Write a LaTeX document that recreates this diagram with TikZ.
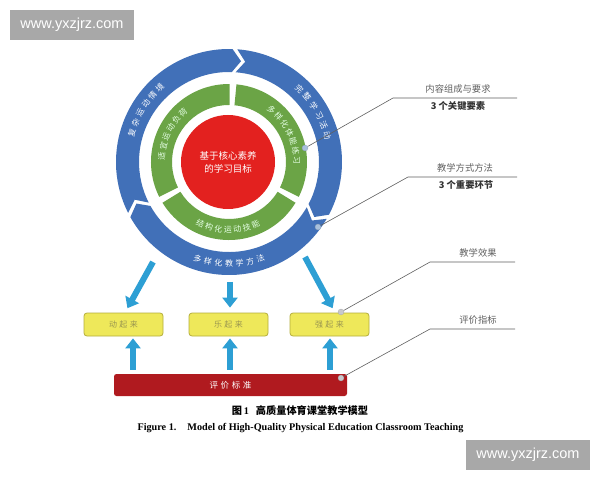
\documentclass[tikz,border=0pt]{standalone}
\usepackage{fontspec}
\setmainfont{Liberation Serif}
\newfontfamily\cjk{Noto Sans CJK SC}
\newfontfamily\cjksp{Noto Sans CJK SC}[LetterSpace=30]
\newfontfamily\wmfont{Liberation Sans}
\usetikzlibrary{arrows.meta}
\definecolor{ringblue}{HTML}{4170B8}
\definecolor{ringgreen}{HTML}{6BA446}
\definecolor{ringred}{HTML}{E3211F}
\definecolor{boxyellow}{HTML}{EEE85A}
\definecolor{boxedge}{HTML}{B5AE3C}
\definecolor{barred}{HTML}{B01A1F}
\definecolor{arrowblue}{HTML}{2D9FD4}
\definecolor{dotblue}{HTML}{A8C0DC}
\definecolor{dotgray}{HTML}{C8C8CC}
\definecolor{leadgray}{HTML}{606060}
\definecolor{wmgray}{HTML}{A8A8A8}
\definecolor{boxtext}{HTML}{9A9650}
\tikzset{
  bluetext/.style={text=white, inner sep=0pt, font=\cjk\fontsize{8}{9}\selectfont},
  greentext/.style={text=white!90!green, inner sep=0pt, font=\cjk\fontsize{8}{9}\selectfont},
  arr/.style={draw=arrowblue, line width=6pt, -{Triangle[width=15pt,length=10pt]}},
  goalbox/.style={draw=boxedge, fill=boxyellow, line width=0.8pt, rounded corners=3pt,
    minimum width=79pt, minimum height=23pt, text=boxtext, font=\cjksp\fontsize{8}{9}\selectfont},
  lead/.style={draw=leadgray, line width=0.6pt},
  dotb/.style={circle, fill=dotblue, draw=dotblue!80!black, line width=0.2pt, minimum size=6pt, inner sep=0pt},
  dotg/.style={circle, fill=dotgray, draw=dotgray!80!black, line width=0.2pt, minimum size=6pt, inner sep=0pt},
  annot/.style={text=leadgray, inner sep=0pt, font=\cjk\fontsize{9.3}{10}\selectfont},
  annotb/.style={text=black!80, inner sep=0pt, font=\cjk\bfseries\fontsize{9.3}{10}\selectfont},
  wmark/.style={fill=wmgray, text=white, minimum width=124pt, minimum height=30pt, inner sep=0pt,
    font=\wmfont\fontsize{14.5}{16}\selectfont}
}
\begin{document}
\begin{tikzpicture}[x=1pt,y=1pt]
\useasboundingbox (0,0) rectangle (600,480);
\fill[white] (0,0) rectangle (600,480);

\begin{scope}[shift={(229,318)}]
  % blue chevron ring
  \foreach \S/\E in {208/87, 87/-29, 331/208} {
    \fill[ringblue] ({\S-1.2}:113) arc[start angle={\S-1.2}, end angle={\E+1.2}, radius=113]
      -- ({\E+1.2-5}:101.5) -- ({\E+1.2}:90)
      arc[start angle={\E+1.2}, end angle={\S-1.2}, radius=90]
      -- ({\S-6.2}:101.5) -- cycle;
  }
  % green ring
  \foreach \S/\E in {209/87, 87/-29, 331/209} {
    \fill[ringgreen] ({\S-2.5}:78) arc[start angle={\S-2.5}, end angle={\E+2.5}, radius=78]
      -- ({\E+2.5}:57) arc[start angle={\E+2.5}, end angle={\S-2.5}, radius=57] -- cycle;
  }
  % core
  \node[circle, fill=ringred, minimum size=94pt, inner sep=0pt, text=white, align=center,
        font=\cjk\fontsize{9.5}{13}\selectfont] (core) at (-1,0) {基于核心素养\\的学习目标};
  % blue labels
  \foreach \c [count=\i] in {复,杂,运,动,情,境} {
    \pgfmathsetmacro\a{163-(\i-1)*6}
    \node[bluetext, rotate=\a-90] (bl-\i) at (\a:101.5) {\c};
  }
  \foreach \c [count=\i] in {完,整,学,习,活,动} {
    \pgfmathsetmacro\a{46-(\i-1)*6.2}
    \node[bluetext, rotate=\a-90] (br-\i) at (\a:101.5) {\c};
  }
  \foreach \c [count=\i] in {多,样,化,教,学,方,法} {
    \pgfmathsetmacro\a{252+(\i-1)*6}
    \node[bluetext, rotate=\a+90] (bb-\i) at (\a:101.5) {\c};
  }
  % green labels
  \foreach \c [count=\i] in {适,宜,运,动,负,荷} {
    \pgfmathsetmacro\a{175-(\i-1)*8.4}
    \node[greentext, rotate=\a-90] (gl-\i) at (\a:67.5) {\c};
  }
  \foreach \c [count=\i] in {多,样,化,体,能,练,习} {
    \pgfmathsetmacro\a{51-(\i-1)*8.3}
    \node[greentext, rotate=\a-90] (gr-\i) at (\a:67.5) {\c};
  }
  \foreach \c [count=\i] in {结,构,化,运,动,技,能} {
    \pgfmathsetmacro\a{245+(\i-1)*8}
    \node[greentext, rotate=\a+90] (gb-\i) at (\a:68) {\c};
  }
\end{scope}

% goal boxes and evaluation bar
\node[goalbox] (box1) at (123.5,155.5) {动起来};
\node[goalbox] (box2) at (228.5,155.5) {乐起来};
\node[goalbox] (box3) at (329.5,155.5) {强起来};
\node[fill=barred, rounded corners=2.5pt, minimum width=233pt, minimum height=22pt, inner sep=0pt,
      text=white, font=\cjksp\fontsize{8.5}{10}\selectfont] (bar) at (230.5,95) {评价标准};

% down arrows
\coordinate (sl) at (153,218);
\coordinate (sm) at (230,198);
\coordinate (sr) at (305,223);
\coordinate (xl) at (125,0);
\coordinate (xm) at (230,0);
\coordinate (xr) at (335,0);
\draw[arr, shorten >=5pt] (sl) -- (box1.north -| xl);
\draw[arr, shorten >=5pt] (sm) -- (box2.north -| xm);
\draw[arr, shorten >=5pt] (sr) -- (box3.north -| xr);
% up arrows
\coordinate (ul) at (133,0);
\coordinate (um) at (230,0);
\coordinate (ur) at (330,0);
\draw[arr, shorten <=4pt, shorten >=2pt] (bar.north -| ul) -- (box1.south -| ul);
\draw[arr, shorten <=4pt, shorten >=2pt] (bar.north -| um) -- (box2.south -| um);
\draw[arr, shorten <=4pt, shorten >=2pt] (bar.north -| ur) -- (box3.south -| ur);

% annotations
\node[dotb] (d1) at (305,332) {};
\node[dotb] (d2) at (318,253) {};
\node[dotg] (d3) at (341,168) {};
\node[dotg] (d4) at (341,102) {};
\coordinate (k1) at (393,382); \coordinate (e1) at (517,382);
\coordinate (k2) at (408,303); \coordinate (e2) at (517,303);
\coordinate (k3) at (430,218); \coordinate (e3) at (515,218);
\coordinate (k4) at (430,151); \coordinate (e4) at (515,151);
\draw[lead] (d1) -- (k1) -- (e1);
\draw[lead] (d2) -- (k2) -- (e2);
\draw[lead] (d3) -- (k3) -- (e3);
\draw[lead] (d4) -- (k4) -- (e4);
\node[annot] (t1a) at (458,391) {内容组成与要求};
\node[annotb] (t1b) at (458,374) {3 个关键要素};
\node[annot] (t2a) at (465,312) {教学方式方法};
\node[annotb] (t2b) at (466,295) {3 个重要环节};
\node[annot] (t3) at (478,227) {教学效果};
\node[annot] (t4) at (478,160) {评价指标};

% captions
\node[inner sep=0pt, font=\fontsize{10.2}{12}\selectfont] (cap1) at (300,69)
  {{\cjk\bfseries 图}\,\textbf{1}\hspace{7pt}{\cjk\bfseries 高质量体育课堂教学模型}};
\node[inner sep=0pt, font=\bfseries\fontsize{10.2}{12}\selectfont] (cap2) at (300.5,52)
  {Figure 1.\hspace{11pt}Model of High-Quality Physical Education Classroom Teaching};

% watermarks
\node[wmark] (wm1) at (72,455) {www.yxzjrz.com};
\node[wmark] (wm2) at (528,25) {www.yxzjrz.com};
\end{tikzpicture}
\end{document}
